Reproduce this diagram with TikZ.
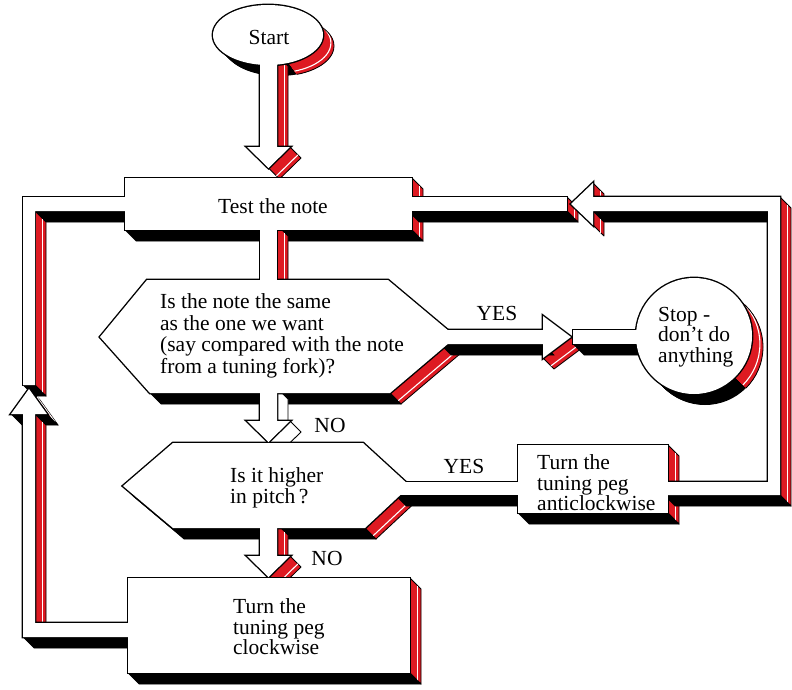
\documentclass[tikz,border=0pt]{standalone}
\usepackage{fontspec}
\setmainfont{Liberation Serif}
\definecolor{pipered}{RGB}{222,26,34}

% depth of the solid look: every face is pushed back by this offset
\newcommand\extx{11}
\newcommand\exty{11}

% turn an x/y point list into a closed path stored in \shp
\newcommand\buildpath[1]{%
  \edef\bplist{#1}%
  \gdef\shp{}%
  \foreach \ptx/\pty [count=\ptn] in \bplist {%
    \ifnum\ptn=1 \xdef\shp{(\ptx,\pty)}\else\xdef\shp{\shp -- (\ptx,\pty)}\fi}%
  \xdef\shp{\shp -- cycle}}
\newcommand\face[2]{\buildpath{#2}\edef\tmpcmd{\noexpand\path[#1] \shp;}\tmpcmd}

% side walls of a clockwise polygon: right-facing walls red, bottom walls black
\newcommand\extrude[1]{%
  \edef\exlist{#1}%
  \foreach \xa/\ya [count=\ei, remember=\xa as \xb (initially 0), remember=\ya as \yb (initially 0)] in \exlist {%
    \ifnum\ei>1
      \pgfmathsetmacro\edx{\xa-\xb}%
      \pgfmathsetmacro\edy{\ya-\yb}%
      \pgfmathtruncatemacro\evis{(\edy-\edx)>1}%
      \ifnum\evis=1
        \pgfmathtruncatemacro\eright{\edy>1}%
        \ifnum\eright=1
          \path[sideface] (\xb,\yb) -- (\xa,\ya) -- (\xa+\extx,\ya+\exty) -- (\xb+\extx,\yb+\exty) -- cycle;
          \path[hilite] (\xb+0.72*\extx,\yb+0.72*\exty) -- (\xa+0.72*\extx,\ya+0.72*\exty);
        \else
          \path[bottomface] (\xb,\yb) -- (\xa,\ya) -- (\xa+\extx,\ya+\exty) -- (\xb+\extx,\yb+\exty) -- cycle;
        \fi
      \fi
    \fi}}

% outlines of the boxes, decisions and pipes (clockwise, first point repeated)
\def\PTtest{125/178,412/178,412/230,125/230,125/178}
\def\PThexA{100/337,147/280,388/280,456/337,390/393,150/393,100/337}
\def\PThexB{123/486,173/443,363/443,410/486,365/528,173/528,123/486}
\def\PTcw{128/578,410/578,410/673,128/673,128/578}
\def\PTacw{518/445,668/445,668/513,518/513,518/445}
\def\PTstart{260/55,277/55,277/147,290/147,268.5/168,247/147,260/147,260/55}
\def\PTleftup{23/197,130/197,130/211,35/211,35/385,23/385,23/197}
\def\PTright{408/197,567/197,567/211,408/211,408/197}
\def\PTdown{260/225,277/225,277/285,260/285,260/225}
\def\PTyesa{440/330,543/330,543/316,571/337,543/358,543/344,440/344,440/330}
\def\PTstem{573/330,645/330,645/344,573/344,573/330}
\def\PTnoa{260/388,277/388,277/421,290/421,268.5/442,247/421,260/421,260/388}
\def\PTyesb{395/482,522/482,522/495,395/495,395/482}
\def\PTnob{260/524,277/524,277/556,290/556,268.5/577,247/556,260/556,260/524}
\def\PTloopr{571/204,593/183,593/197,780/197,780/495,664/495,664/482,768/482,768/211,593/211,593/225,571/204}
\def\PTloopl{11/414,29/389,47/414,35/414,35/623,132/623,132/637,23/637,23/414,11/414}

\begin{document}
\begin{tikzpicture}[x=1pt,y=-1pt,
  sideface/.style={fill=pipered,draw=black,line width=0.8pt,line join=round},
  hilite/.style={draw=white,line width=1.1pt},
  bottomface/.style={fill=black,draw=black,line width=0.5pt},
  faceline/.style={draw=black,line width=2.8pt,line join=miter},
  facefill/.style={fill=white},
  lbl/.style={font=\fontsize{21.5}{20.5}\selectfont,inner sep=0pt,text=black}]
\useasboundingbox[fill=white] (0,0) rectangle (792,690);

% ---- depth of the rounded terminals ----
\foreach \k in {0,...,20}{\fill[black] (268+\k*\extx/20,35+\k*\exty/20) ellipse [x radius=55pt,y radius=30pt];}
\begin{scope}
  \clip (273,40) -- (367,6) -- (385,60) -- (330,122) -- cycle;
  \foreach \k in {0,...,20}{\fill[pipered] (268+\k*\extx/20,35+\k*\exty/20) ellipse [x radius=55pt,y radius=30pt];}
  \draw[hilite] (268+0.72*\extx,35+0.72*\exty) ellipse [x radius=55pt,y radius=30pt];
  \draw[black,line width=0.8pt] (268+\extx,35+\exty) ellipse [x radius=55pt,y radius=30pt];
\end{scope}
\foreach \k in {0,...,20}{\fill[black] (694+\k*\extx/20,336+\k*\exty/20) circle [radius=58pt];}
\begin{scope}
  \clip (700,342) -- (777,278) -- (810,340) -- (771,413) -- cycle;
  \foreach \k in {0,...,20}{\fill[pipered] (694+\k*\extx/20,336+\k*\exty/20) circle [radius=58pt];}
  \draw[hilite] (694+0.72*\extx,336+0.72*\exty) circle [radius=58pt];
  \draw[black,line width=0.8pt] (694+\extx,336+\exty) circle [radius=58pt];
\end{scope}

% ---- depth of boxes and decisions ----
\extrude{\PTtest}
\extrude{\PThexA}
\extrude{\PThexB}
\extrude{\PTacw}
\extrude{\PTcw}

% ---- depth of pipes and arrows ----
\extrude{\PTstart}
\extrude{\PTleftup}
\extrude{\PTright}
\extrude{\PTdown}
\extrude{\PTyesa}
\extrude{\PTstem}
\begin{scope}[sideface/.style={fill=white,draw=black,line width=0.9pt},hilite/.style={draw=none}]
  \extrude{\PTnoa}
\end{scope}
\extrude{\PTyesb}
\extrude{\PTnob}
\extrude{\PTloopr}
\extrude{\PTloopl}

% ---- front faces: heavy outline first, white fill on top merges the joins ----
\draw[faceline] (268,35) ellipse [x radius=55pt,y radius=30pt];
\draw[faceline] (694,336) circle [radius=58pt];
\foreach \s in {\PTtest,\PThexA,\PThexB,\PTacw,\PTcw,\PTstart,\PTleftup,\PTright,\PTdown,\PTyesa,\PTstem,\PTnoa,\PTyesb,\PTnob,\PTloopr,\PTloopl}{\face{faceline}{\s}}
\fill[facefill] (268,35) ellipse [x radius=55pt,y radius=30pt];
\fill[facefill] (694,336) circle [radius=58pt];
\foreach \s in {\PTtest,\PThexA,\PThexB,\PTacw,\PTcw,\PTstart,\PTleftup,\PTright,\PTdown,\PTyesa,\PTstem,\PTnoa,\PTyesb,\PTnob,\PTloopr,\PTloopl}{\face{facefill}{\s}}

% ---- labels ----
\node[lbl] (start) at (269,37) {Start};
\node[lbl] (test) at (273,206) {Test the note};
\node[lbl,font=\fontsize{21.5}{21.7}\selectfont,anchor=west,align=left] (same) at (160,336) {Is the note the same\\as the one we want\\(say compared with the note\\from a tuning fork)?};
\node[lbl] (yesa) at (497,313) {YES};
\node[lbl,anchor=west,align=left] (stop) at (658,337) {Stop -\\don't do\\anything};
\node[lbl] (noa) at (330,425) {NO};
\node[lbl,anchor=west,align=left] (higher) at (230,488) {Is it higher\\in pitch\,?};
\node[lbl] (yesb) at (464,466) {YES};
\node[lbl,anchor=west,align=left] (anti) at (537,483) {Turn the\\tuning peg\\anticlockwise};
\node[lbl] (nob) at (327,558) {NO};
\node[lbl,anchor=west,align=left] (clock) at (233,627) {Turn the\\tuning peg\\clockwise};
\end{tikzpicture}
\end{document}
